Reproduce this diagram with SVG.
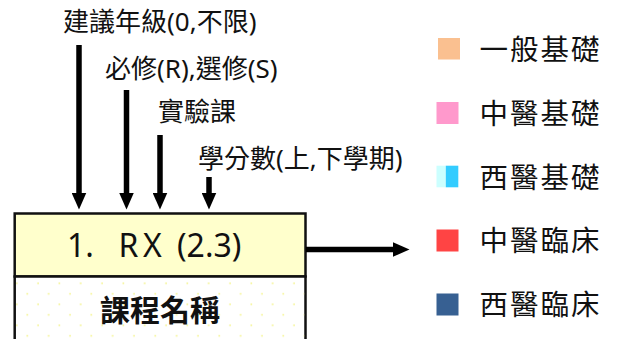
<svg xmlns="http://www.w3.org/2000/svg" width="633" height="339" viewBox="0 0 633 339">
<style>
text{font-family:"Noto Sans","Noto Sans CJK TC",sans-serif;fill:#111}
.lab{font-size:26px}
.leg{font-size:28.5px;letter-spacing:2px}
.arr{stroke:#000;stroke-width:5.5;fill:none;marker-end:url(#ah)}
.sw{stroke:none}
</style>
<defs>
<marker id="ah" markerUnits="userSpaceOnUse" viewBox="0 0 17 15" markerWidth="17" markerHeight="15" refX="0.5" refY="7.5" orient="auto">
<path d="M0,0 L17,7.5 L0,15 Z" fill="#000"/>
</marker>
<pattern id="dots" patternUnits="userSpaceOnUse" x="11.7" y="278.3" width="21.33" height="21">
<rect x="4.3" y="4.3" width="1.5" height="1.5" fill="#F2F280"/>
<rect x="14.9" y="14.8" width="1.5" height="1.5" fill="#F2F280"/>
</pattern>
</defs>
<g id="labels">
<text class="lab" x="63" y="30.5">建議年級(0,不限)</text>
<text class="lab" x="105" y="78">必修(R),選修(S)</text>
<text class="lab" x="158" y="121">實驗課</text>
<text class="lab" x="198" y="168">學分數(上,下學期)</text>
</g>
<g id="course-box">
<rect x="14.7" y="213.5" width="290.8" height="63" fill="#FFFFCC" stroke="#111" stroke-width="2.5"/>
<rect x="14.7" y="276.5" width="290.8" height="80" fill="#fff" stroke="#111" stroke-width="2.5"/>
<rect x="16" y="277.8" width="288.2" height="70" fill="url(#dots)"/>
<text font-size="32" y="256.5"><tspan x="67">1.</tspan><tspan x="118.5">R</tspan><tspan x="143">X</tspan><tspan x="177">(2.3)</tspan></text>
<text font-size="30" font-weight="bold" x="160" y="320.5" text-anchor="middle">課程名稱</text>
</g>
<g id="connectors">
<line class="arr" x1="79" y1="45" x2="79" y2="193"/>
<line class="arr" x1="126.5" y1="90" x2="126.5" y2="193"/>
<line class="arr" x1="160" y1="135" x2="160" y2="193"/>
<line class="arr" x1="209" y1="177" x2="209" y2="193"/>
<line class="arr" x1="306" y1="249.5" x2="393" y2="249.5"/>
</g>
<g id="legend-general">
<rect class="sw" x="438" y="38" width="22" height="21.5" fill="#FAC090"/>
<text class="leg" x="479.5" y="60">一般基礎</text>
</g>
<g id="legend-tcm-basic">
<rect class="sw" x="436.5" y="102" width="22" height="22" fill="#FF99CC"/>
<text class="leg" x="479.5" y="123.5">中醫基礎</text>
</g>
<g id="legend-wm-basic">
<rect class="sw" x="436.5" y="165.7" width="9.3" height="21.6" fill="#CCFFFF"/>
<rect class="sw" x="445.8" y="165.7" width="12.5" height="21.6" fill="#33CCFF"/>
<text class="leg" x="479.5" y="187.5">西醫基礎</text>
</g>
<g id="legend-tcm-clinical">
<rect class="sw" x="436.5" y="229.5" width="22" height="22" fill="#FF4444"/>
<text class="leg" x="479.5" y="251">中醫臨床</text>
</g>
<g id="legend-wm-clinical">
<rect class="sw" x="436.5" y="293.5" width="22" height="22" fill="#376092"/>
<text class="leg" x="479.5" y="314.5">西醫臨床</text>
</g>
</svg>
